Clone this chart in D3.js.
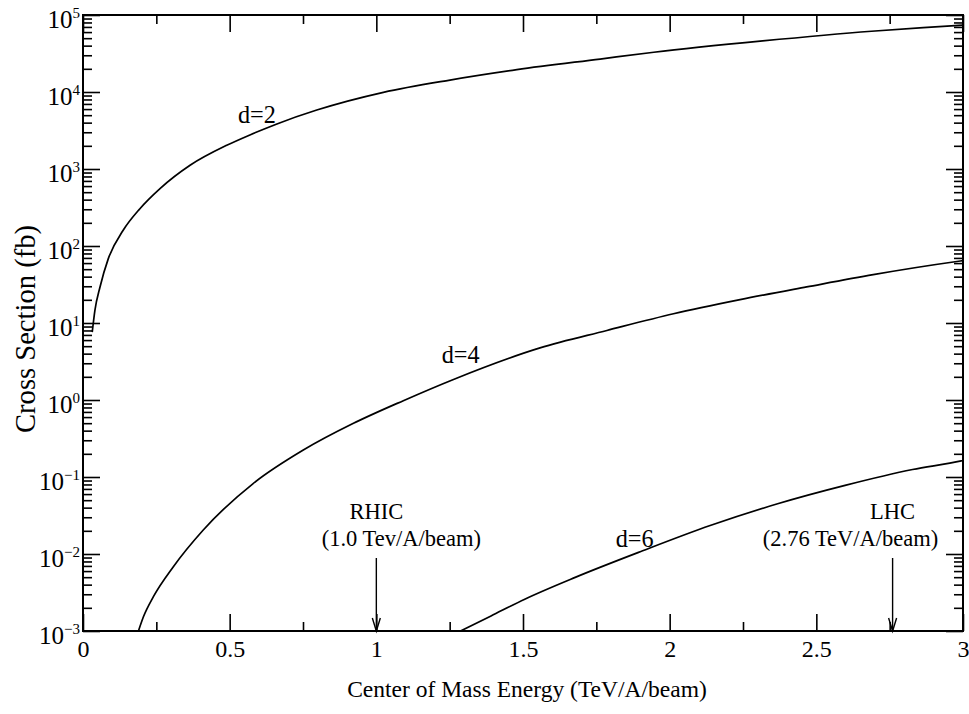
<!DOCTYPE html>
<html>
<head>
<meta charset="utf-8">
<script src="https://cdn.jsdelivr.net/npm/d3@7/dist/d3.min.js"></script>
<style>
  body { margin: 0; background: #fff; }
</style>
</head>
<body>
<div id="vis"></div>
<script>
// curve values (energy in TeV/A/beam, cross section in fb)
const d2Energy = [0.0315, 0.0406, 0.058, 0.086, 0.137, 0.194, 0.2625, 0.365, 0.49, 0.569, 0.661, 0.797, 1.024, 1.251, 1.479, 1.763, 1.946, 2.317, 2.688, 2.973, 3.0];
const d2Sigma  = [7.6, 14.6, 29.4, 68, 160, 305, 556, 1117, 2030, 2770, 3850, 5830, 9900, 14300, 19500, 26800, 32800, 46000, 61500, 72800, 74000];

const d4Energy = [0.189, 0.206, 0.24, 0.308, 0.41, 0.581, 0.751, 0.922, 1.092, 1.263, 1.558, 1.786, 2.013, 2.24, 2.467, 2.694, 2.967, 3.0];
const d4Sigma  = [0.001, 0.00153, 0.00279, 0.00684, 0.0205, 0.0828, 0.224, 0.498, 0.98, 1.85, 4.75, 8.0, 13.2, 20.1, 29.4, 42.5, 62, 64.5];

const d6Energy = [1.287, 1.391, 1.506, 1.678, 1.908, 2.138, 2.368, 2.598, 2.828, 2.994, 3.0];
const d6Sigma  = [0.001, 0.00157, 0.00259, 0.00497, 0.0110, 0.0234, 0.0449, 0.0778, 0.125, 0.162, 0.164];

const xMajorTicks = [0, 0.5, 1, 1.5, 2, 2.5, 3];
const xMinorTicks = [0.25, 0.75, 1.25, 1.75, 2.25, 2.75];
const yExponents = [-3, -2, -1, 0, 1, 2, 3, 4, 5];

const curveNames = ["d=2", "d=4", "d=6"];
const labelEnergy = [0.528, 1.223, 1.816];
const labelSigma = [3954, 3.03, 0.0123];

const machines = ["RHIC", "LHC"];
const machineEnergy = [1.0, 2.76];
const machineNotes = ["(1.0 Tev/A/beam)", "(2.76 TeV/A/beam)"];

const xTitle = "Center of Mass Energy (TeV/A/beam)";
const yTitle = "Cross Section (fb)";

// pick a Times-like face if one is installed, otherwise fall back
const ctx = document.createElement("canvas").getContext("2d");
function textWidth(family, size, text) {
  ctx.font = `${size}px ${family}`;
  return ctx.measureText(text).width;
}
const probe = "Cross Section (fb) 0123456789";
const baseW = textWidth("monospace", 40, probe);
const serifChoices = ["Liberation Serif", "DejaVu Serif", "Tinos", "Times New Roman", "Noto Serif", "FreeSerif", "Nimbus Roman"];
const found = serifChoices.find(f => Math.abs(textWidth(`'${f}', monospace`, 40, probe) - baseW) > 0.5);
const FONT = found ? `'${found}', serif` : "serif";

// size text so it covers about as much room as in the picture
const titleSize = 24 * 360 / textWidth(FONT, 24, xTitle);
const yTitleSize = 24 * 208 / textWidth(FONT, 24, yTitle);
const noteSize = Math.min(26, titleSize * 1.03);
const machSize = Math.min(22.5, noteSize);

const W = 969, H = 714;
const margin = { top: 15, right: 6, bottom: 83, left: 83 };
const width = W - margin.left - margin.right;
const height = H - margin.top - margin.bottom;

const svg = d3.select("#vis").append("svg")
  .attr("width", W)
  .attr("height", H)
  .style("font-family", FONT);

const g = svg.append("g")
  .attr("transform", `translate(${margin.left},${margin.top})`);

// scales
const x = d3.scaleLinear().domain([0, 3]).range([0, width]);
const y = d3.scaleLog().domain([1e-3, 1e5]).range([height, 0]);

const major = 17, minor = 9;

// minor y ticks: 2..9 in every decade
const yMinorTicks = y.ticks().filter(v => Math.abs(Math.log10(v) - Math.round(Math.log10(v))) > 1e-6);
const yMajorTicks = yExponents.map(e => Math.pow(10, e));

function tickGroup(axis, transform) {
  const a = g.append("g").attr("transform", transform).call(axis);
  a.attr("font-family", null);
  a.select(".domain").remove();
  a.selectAll("line").attr("stroke", "#000").attr("stroke-width", 1.6);
  return a;
}

// bottom: major with labels, minor without
const bottom = tickGroup(
  d3.axisBottom(x).tickValues(xMajorTicks).tickSizeInner(-major).tickSizeOuter(0)
    .tickPadding(9).tickFormat(d3.format("~g")),
  `translate(0,${height})`);
bottom.selectAll("text").attr("font-size", 24).attr("fill", "#000");
tickGroup(d3.axisBottom(x).tickValues(xMinorTicks).tickSizeInner(-minor).tickSizeOuter(0).tickFormat(""),
  `translate(0,${height})`);

// top mirror ticks
tickGroup(d3.axisTop(x).tickValues(xMajorTicks).tickSizeInner(-major).tickSizeOuter(0).tickFormat(""), "translate(0,0)");
tickGroup(d3.axisTop(x).tickValues(xMinorTicks).tickSizeInner(-minor).tickSizeOuter(0).tickFormat(""), "translate(0,0)");

// left and right ticks
tickGroup(d3.axisLeft(y).tickValues(yMajorTicks).tickSizeInner(-major).tickSizeOuter(0).tickFormat(""), "translate(0,0)");
tickGroup(d3.axisLeft(y).tickValues(yMinorTicks).tickSizeInner(-minor).tickSizeOuter(0).tickFormat(""), "translate(0,0)");
tickGroup(d3.axisRight(y).tickValues(yMajorTicks).tickSizeInner(-major).tickSizeOuter(0).tickFormat(""), `translate(${width},0)`);
tickGroup(d3.axisRight(y).tickValues(yMinorTicks).tickSizeInner(-minor).tickSizeOuter(0).tickFormat(""), `translate(${width},0)`);

// y tick labels: 10 with superscript exponent, right aligned as one piece
const yLab = g.append("g").selectAll("text")
  .data(yExponents)
  .join("text")
  .attr("x", -3)
  .attr("y", e => y(Math.pow(10, e)) + 13)
  .attr("text-anchor", "end")
  .attr("font-size", 25);
yLab.append("tspan").text("10");
yLab.append("tspan")
  .attr("dy", -10)
  .attr("font-size", 15)
  .text(e => (e < 0 ? "\u2212" + (-e) : String(e)));

// frame
g.append("rect")
  .attr("width", width).attr("height", height)
  .attr("fill", "none").attr("stroke", "#000").attr("stroke-width", 2);

// curves
const line = d3.line()
  .x(d => x(d[0]))
  .y(d => y(d[1]))
  .curve(d3.curveMonotoneX);

const series = [
  d3.zip(d2Energy, d2Sigma),
  d3.zip(d4Energy, d4Sigma),
  d3.zip(d6Energy, d6Sigma)
];

g.append("defs").append("clipPath").attr("id", "clip")
  .append("rect").attr("width", width).attr("height", height);

g.append("g").attr("clip-path", "url(#clip)")
  .selectAll("path")
  .data(series)
  .join("path")
  .attr("d", line)
  .attr("fill", "none")
  .attr("stroke", "#000")
  .attr("stroke-width", 1.7);

// curve labels
g.selectAll(".clabel")
  .data(curveNames)
  .join("text")
  .attr("class", "clabel")
  .attr("x", (d, i) => x(labelEnergy[i]))
  .attr("y", (d, i) => y(labelSigma[i]))
  .attr("font-size", noteSize)
  .text(d => d);

// machine arrows and notes
const mach = g.selectAll(".machine")
  .data(machines)
  .join("g")
  .attr("class", "machine")
  .attr("transform", (d, i) => `translate(${x(machineEnergy[i])},${height})`);

mach.append("line")
  .attr("y1", -73).attr("y2", 0)
  .attr("stroke", "#000").attr("stroke-width", 1.4);
mach.append("path")
  .attr("d", "M-4,-13L0,0L4,-13")
  .attr("fill", "none").attr("stroke", "#000").attr("stroke-width", 1.4);
mach.append("text")
  .attr("y", -112)
  .attr("text-anchor", "middle")
  .attr("font-size", machSize)
  .text(d => d);
mach.append("text")
  .attr("x", (d, i) => (i === 0 ? 25 : -42))
  .attr("y", -85)
  .attr("text-anchor", "middle")
  .attr("font-size", machSize)
  .text((d, i) => machineNotes[i]);

// axis titles
svg.append("text")
  .attr("x", margin.left + width / 2 + 4)
  .attr("y", 697)
  .attr("text-anchor", "middle")
  .attr("font-size", titleSize)
  .text(xTitle);

svg.append("text")
  .attr("transform", `translate(35,${329}) rotate(-90)`)
  .attr("text-anchor", "middle")
  .attr("font-size", yTitleSize)
  .text(yTitle);
</script>
</body>
</html>
